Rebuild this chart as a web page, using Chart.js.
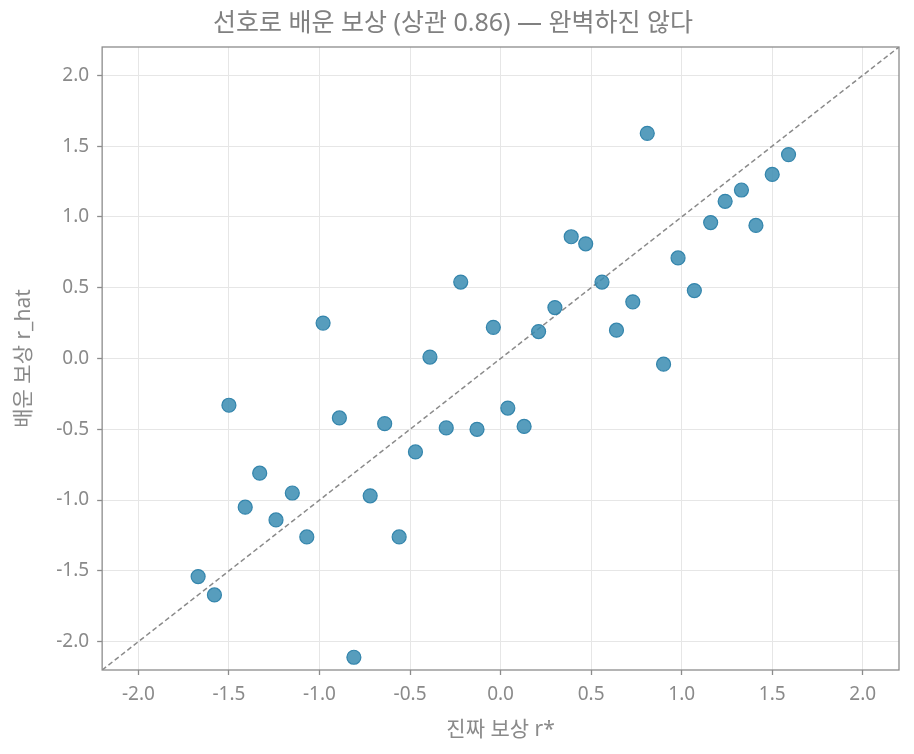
<!DOCTYPE html>
<html>
<head>
<meta charset="utf-8">
<script src="https://cdn.jsdelivr.net/npm/chart.js@4/dist/chart.umd.min.js"></script>
<style>
  html, body { margin: 0; padding: 0; background: #fff; }
  #wrap { width: 914px; height: 754px; }
</style>
</head>
<body>
<div id="wrap"><canvas id="reward-scatter" width="914" height="754"></canvas></div>
<script>
// true reward r* and learned reward r_hat
var trueReward = [
  -0.98, -0.22, -0.04, -0.39, -1.50, -0.89, -0.64, -0.30, -0.13, -0.47,
  -1.33, -1.15, -1.41, -1.24, -0.72, -1.07, -0.56, -1.67, -1.58, -0.81,
  0.81, 1.59, 1.50, 1.33, 1.24, 1.16, 1.41, 0.39, 0.47, 0.98,
  0.56, 0.73, 0.30, 1.07, 0.64, 0.21, 0.90, 0.04, 0.13
];
var learnedReward = [
  0.25, 0.54, 0.22, 0.01, -0.33, -0.42, -0.46, -0.49, -0.50, -0.66,
  -0.81, -0.95, -1.05, -1.14, -0.97, -1.26, -1.26, -1.54, -1.67, -2.11,
  1.59, 1.44, 1.30, 1.19, 1.11, 0.96, 0.94, 0.86, 0.81, 0.71,
  0.54, 0.40, 0.36, 0.48, 0.20, 0.19, -0.04, -0.35, -0.48
];
var axisMin = -2.2;
var axisMax = 2.2;
var tickValues = [-2.0, -1.5, -1.0, -0.5, 0.0, 0.5, 1.0, 1.5, 2.0];

var points = trueReward.map(function(x, i) {
  return { x: x, y: learnedReward[i] };
});

var frameBox = {
  id: 'frameBox',
  afterDraw: function(chart) {
    var a = chart.chartArea, c = chart.ctx;
    c.save();
    c.strokeStyle = '#8c8c8c';
    c.lineWidth = 1.3;
    c.strokeRect(a.left, a.top, a.right - a.left, a.bottom - a.top);
    c.restore();
  }
};

var fontFam = '"Noto Sans", "Noto Sans CJK KR", sans-serif';

function axisOpts(title, titlePad) {
  return {
    type: 'linear',
    min: axisMin,
    max: axisMax,
    afterBuildTicks: function(scale) {
      scale.ticks = tickValues.map(function(v) { return { value: v }; });
    },
    ticks: {
      color: '#8a8a8a',
      font: { family: fontFam, size: 19 },
      padding: 8,
      callback: function(v) { return v.toFixed(1); }
    },
    grid: {
      color: '#e6e6e6',
      lineWidth: 1,
      tickLength: 5,
      tickColor: '#8c8c8c',
      tickWidth: 1.3
    },
    border: { display: false },
    title: {
      display: true,
      text: title,
      color: '#8a8a8a',
      font: { family: fontFam, size: 21 },
      padding: titlePad
    }
  };
}

var ctx = document.getElementById('reward-scatter').getContext('2d');
var myChart = new Chart(ctx, {
  type: 'scatter',
  data: {
    datasets: [
      {
        label: 'y = x',
        type: 'line',
        data: [{ x: axisMin, y: axisMin }, { x: axisMax, y: axisMax }],
        borderColor: '#8a8a8a',
        borderWidth: 1.5,
        borderDash: [5, 3],
        pointRadius: 0,
        fill: false,
        order: 2
      },
      {
        label: 'samples',
        data: points,
        backgroundColor: 'rgba(58, 140, 178, 0.85)',
        borderColor: 'rgba(46, 130, 170, 0.95)',
        borderWidth: 1.2,
        pointRadius: 7,
        order: 1
      }
    ]
  },
  options: {
    responsive: false,
    devicePixelRatio: 1,
    animation: false,
    layout: { padding: { left: 7, right: 15, top: 0, bottom: 11 } },
    plugins: {
      legend: { display: false },
      tooltip: { enabled: false },
      title: {
        display: true,
        text: '선호로 배운 보상 (상관 0.86) — 완벽하진 않다',
        color: '#808080',
        font: { family: fontFam, size: 25, weight: 'normal' },
        padding: { top: 9, bottom: 8 }
      }
    },
    scales: {
      x: axisOpts('진짜 보상 r*', { top: 4, bottom: 0 }),
      y: axisOpts('배운 보상 r_hat', { top: 4, bottom: 12 })
    }
  },
  plugins: [frameBox]
});
</script>
</body>
</html>
